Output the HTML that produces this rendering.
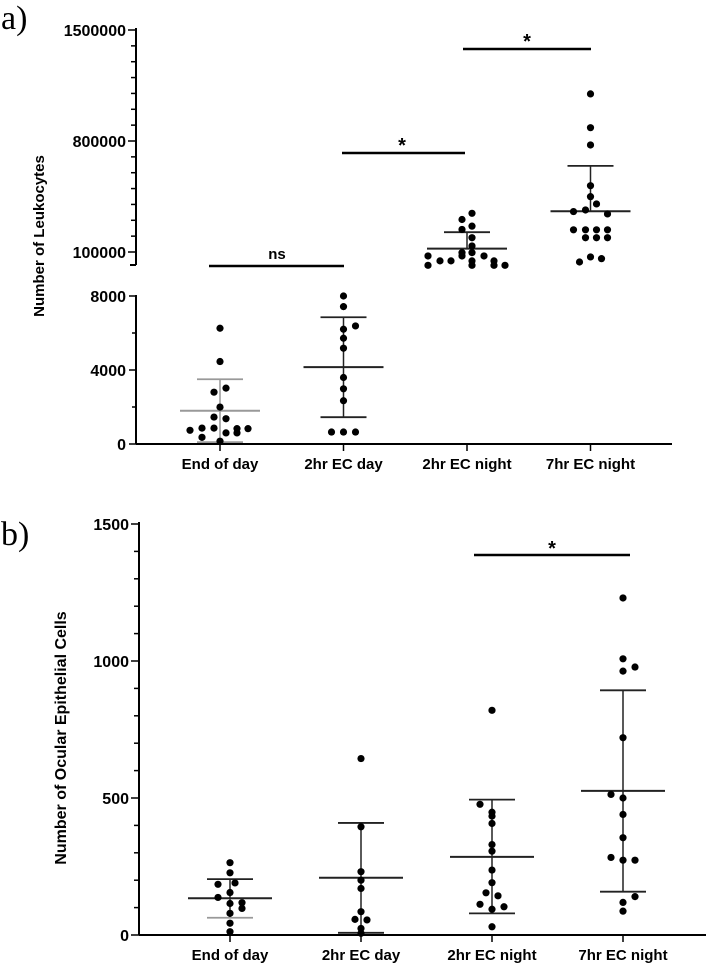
<!DOCTYPE html>
<html><head><meta charset="utf-8"><style>
html,body{margin:0;padding:0;background:#fff;}
svg{display:block;font-family:"Liberation Sans",Arial,sans-serif;}
</style></head><body>
<svg id="chart" width="708" height="964" viewBox="0 0 708 964" xmlns="http://www.w3.org/2000/svg">
<text x="1" y="29" font-family="Liberation Serif,serif" font-size="34">a)</text>
<text x="1" y="545" font-family="Liberation Serif,serif" font-size="34">b)</text>
<text transform="translate(44,236) rotate(-90)" text-anchor="middle" font-size="15" font-weight="bold">Number of Leukocytes</text>
<text transform="translate(66,738) rotate(-90)" text-anchor="middle" font-size="16" font-weight="bold">Number of Ocular Epithelial Cells</text>
</svg>
<script>
const categories = ["End of day","2hr EC day","2hr EC night","7hr EC night"];
// Panel a values
const aEod = [6256,4458,2800,3020,1995,1456,1366,740,860,860,830,830,600,600,360,150];
const aDay = [8000,7425,6382,6202,5717,5177,3595,2984,2337,647,647,647];
const aNight = [344000,305000,263000,242000,190000,138000,96000,96000,75000,75000,75000,44000,44000,44000,44000,16000,16000,16000,16000];
const a7hr = [1097000,884000,775000,518000,449000,403000,355000,365000,340000,240000,240000,240000,240000,190000,190000,190000,69000,58000,37000];
const aMean = [1800,4153,121000,357000];
const aSdHi = [3500,6850,225000,643000];
const aSdLo = [100,1450,17000,71000];
// Panel b values
const bEod = [264,227,190,185,155,137,118,115,97,79,43,12];
const bDay = [644,395,231,200,170,85,57,55,24,6];
const bNight = [820,477,448,434,407,330,306,237,191,154,143,112,103,94,30];
const b7hr = [1230,1008,978,963,720,513,500,440,355,283,273,273,140,119,87];
const bMean = [134,209,285,526];
const bSdHi = [204,409,494,893];
const bSdLo = [63,8,79,158];
const bTicks = [0,500,1000,1500];
const aUpperTicks = [100000,800000,1500000];
const aLowerTicks = [0,4000,8000];

// jitter (layout only, px)
const jA = [[0,0,-6,6,0,-6,6,-30,-18,-6,17,28,6,17,-18,0],[0,0,12,0,0,0,0,0,0,-12,0,12],
 [5,-5,5,-5,5,5,-5,5,-39,-5,17,-27,-16,5,27,-39,5,27,38],[0,0,0,0,0,6,-17,-5,17,-17,-5,6,17,-5,6,17,0,11,-11]];
const jB = [[0,0,5,-12,0,-12,12,0,12,0,0,0],[0,0,0,0,0,0,-6,6,0,0],
 [0,-12,0,0,0,0,0,0,0,-6,6,-12,12,0,0],[0,0,12,0,0,-12,0,0,0,-12,0,12,12,0,0]];

const svg = document.getElementById('chart');
const NS = 'http://www.w3.org/2000/svg';
function el(tag, attrs, parent){const e=document.createElementNS(NS,tag);for(const k in attrs)e.setAttribute(k,attrs[k]);(parent||svg).appendChild(e);return e;}
function line(x1,y1,x2,y2,w,c){return el('line',{x1,y1,x2,y2,stroke:c||'#000','stroke-width':w||1.5});}
function txt(x,y,s,size,anchor){const t=el('text',{x,y,'font-size':size,'font-weight':'bold','text-anchor':anchor||'middle'});t.textContent=s;return t;}

// ---- Panel a ----
const aAx=136, aRight=672, aBase=444;
const aX = i => 220 + i*123.5;
const aYup = v => 252 - (v-100000)/1400000*222;
const aYlo = v => aBase - v/8000*148;
const aY = (v,i) => i<2 ? aYlo(v) : aYup(v);
let e;
e=line(aAx,28,aAx,265,2);

line(aAx-6,265,aAx,265,2);
e=line(aAx,295,aAx,aBase,2);

e=line(aAx,aBase,aRight,aBase,2);

for(let v=100000;v<=1500000;v+=100000){const y=aYup(v);const major=aUpperTicks.includes(v);line(aAx-(major?8:5),y,aAx,y,1.5);}
aUpperTicks.forEach(v=>{e=txt(aAx-10,aYup(v)+6,String(v),16,'end');});
aLowerTicks.forEach(v=>{line(aAx-7,aYlo(v),aAx,aYlo(v),1.5);e=txt(aAx-10,aYlo(v)+6,String(v),16,'end');});
for(let v=0;v<=8000;v+=2000){if(!aLowerTicks.includes(v))line(aAx-4,aYlo(v),aAx,aYlo(v),1.5);}
categories.forEach((c,i)=>{line(aX(i),aBase,aX(i),aBase+7,1.5);e=txt(aX(i),469,c,15);});
[aEod,aDay,aNight,a7hr].forEach((arr,i)=>{
  const col = i===0?'#999':'#222';
  const lo = i<2 ? aSdLo[i] : aMean[i];
  line(aX(i),aY(aSdHi[i],i),aX(i),aY(lo,i),1.5,col);
  line(aX(i)-23,aY(aSdHi[i],i),aX(i)+23,aY(aSdHi[i],i),1.8,col);
  if(i<2) line(aX(i)-23,aY(aSdLo[i],i),aX(i)+23,aY(aSdLo[i],i),1.8,col);
  e=line(aX(i)-40,aY(aMean[i],i),aX(i)+40,aY(aMean[i],i),2,col);
  
  arr.forEach((v,k)=>{const c=el('circle',{cx:aX(i)+(jA[i][k]||0),cy:aY(v,i),r:3.6,fill:'#000'});
    
    });
});
// significance bars a
line(209,266,344,266,2.5); e=txt(277,259,'ns',15); 
line(342,153,465,153,2.5); e=txt(402,152,'*',20); 
line(463,49,591,49,2.5); e=txt(527,48,'*',20); 

// ---- Panel b ----
const bAx=139, bRight=706, bBase=935;
const bX = i => 230 + i*131;
const bY = v => bBase - v/1500*411;
e=line(bAx,522,bAx,bBase,2);
e=line(bAx,bBase,bRight,bBase,2);
for(let v=0;v<=1500;v+=100){const major=bTicks.includes(v);line(bAx-(major?8:5),bY(v),bAx,bY(v),1.5);}
bTicks.forEach(v=>{e=txt(bAx-10,bY(v)+6,String(v),16,'end');});
categories.forEach((c,i)=>{line(bX(i),bBase,bX(i),bBase+7,1.5);e=txt(bX(i),960,c,15);});
[bEod,bDay,bNight,b7hr].forEach((arr,i)=>{
  const col='#222';
  line(bX(i),bY(bSdHi[i]),bX(i),bY(bSdLo[i]),1.5,col);
  line(bX(i)-23,bY(bSdHi[i]),bX(i)+23,bY(bSdHi[i]),1.8,col);
  line(bX(i)-23,bY(bSdLo[i]),bX(i)+23,bY(bSdLo[i]),1.8,i===0?'#999':col);
  e=line(bX(i)-42,bY(bMean[i]),bX(i)+42,bY(bMean[i]),2,col);
  
  arr.forEach((v,k)=>{const c=el('circle',{cx:bX(i)+(jB[i][k]||0),cy:bY(v),r:3.6,fill:'#000'});
    
    });
});
line(474,555,630,555,2.5); e=txt(552,555,'*',20); 
</script>
</body></html>
